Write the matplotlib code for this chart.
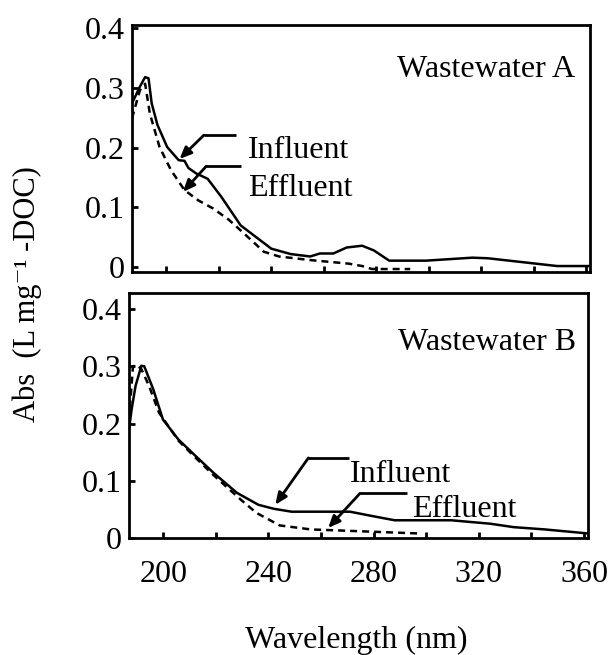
import matplotlib
matplotlib.use("Agg")
import matplotlib.pyplot as plt

plt.rcParams["font.family"] = ["Liberation Serif", "DejaVu Serif"]

# Wastewater A, influent (solid) and effluent (dashed)
wl_a_in = [187, 190, 192, 193.3, 194.5, 196.7, 200.4, 204.8, 207, 208.5, 211.4,
           215.8, 221, 228.4, 240.1, 247.5, 254.9, 258.6, 263.7, 268.8, 274.7,
           279.2, 285, 299, 316.7, 322.6, 349, 361]
abs_a_in = [0.274, 0.302, 0.318, 0.316, 0.274, 0.238, 0.201, 0.179, 0.178, 0.166,
            0.157, 0.148, 0.118, 0.070, 0.031, 0.022, 0.018, 0.023, 0.023, 0.033,
            0.036, 0.028, 0.011, 0.011, 0.016, 0.015, 0.002, 0.002]
wl_a_eff = [187, 190, 192, 193.8, 197.5, 201.9, 207, 212.2, 218, 224, 229.8,
            237.2, 243, 254.9, 269.6, 274.7, 278.4, 293]
abs_a_eff = [0.249, 0.296, 0.307, 0.257, 0.201, 0.162, 0.129, 0.112, 0.098, 0.079,
             0.056, 0.026, 0.018, 0.012, 0.006, 0.002, -0.003, -0.003]

# Wastewater B
wl_b_in = [187, 188, 189.5, 191.7, 192.8, 196.2, 199.9, 205.8, 211.7, 219.1, 228,
           236.2, 242.1, 248.8, 271, 279.9, 288, 309.5, 324.3, 333.2, 345.1, 361.4]
abs_b_in = [0.190, 0.225, 0.266, 0.301, 0.300, 0.260, 0.207, 0.172, 0.146, 0.114,
            0.079, 0.058, 0.051, 0.046, 0.046, 0.038, 0.031, 0.031, 0.025, 0.019,
            0.015, 0.008]
wl_b_eff = [187, 188.5, 190, 191.7, 194.6, 198.4, 205.8, 211.7, 219.1, 229.5,
            235.4, 244.3, 256.1, 268, 296.9]
abs_b_eff = [0.207, 0.300, 0.302, 0.295, 0.266, 0.219, 0.170, 0.143, 0.110, 0.067,
             0.044, 0.022, 0.015, 0.013, 0.008]

y_ticks = [0, 0.1, 0.2, 0.3, 0.4]
y_labels = ["0", "0.1", "0.2", "0.3", "0.4"]
x_ticks = [200, 240, 280, 320, 360]
FS = 23


def style_axes(ax, ylim):
    ax.set_xlim(187, 361.5)
    ax.set_ylim(*ylim)
    for s in ax.spines.values():
        s.set_linewidth(2.0)
    ax.set_yticks(y_ticks)
    ax.set_yticklabels(y_labels, fontsize=FS)
    ax.set_xticks(x_ticks)
    ax.set_xticks(range(200, 361, 20), minor=True)
    ax.tick_params(axis="both", which="both", direction="in", width=2, length=4)
    ax.tick_params(axis="y", pad=5)
    ax.tick_params(axis="x", pad=16, labelsize=FS)


def pointer(ax, x0, x1, y, tip):
    ax.plot([x0, x1], [y, y], color="black", lw=2.0, solid_capstyle="butt")
    ax.annotate("", xy=tip, xytext=(x0, y),
                arrowprops=dict(arrowstyle="-|>,head_length=0.7,head_width=0.3",
                                color="black", lw=2.0, shrinkA=0, shrinkB=0))


fig = plt.figure(figsize=(6.1, 6.55), dpi=100)
ax1 = fig.add_axes([0.2164, 0.5847, 0.7508, 0.377])
ax2 = fig.add_axes([0.2115, 0.1786, 0.7525, 0.374])

dash = (0, (2.8, 2.0))

ax1.plot(wl_a_in, abs_a_in, "-", color="black", lw=1.8)
ax1.plot(wl_a_eff, abs_a_eff, color="black", lw=1.8, linestyle=dash)
style_axes(ax1, (-0.008, 0.405))
ax1.set_xticklabels([])
ax1.text(355.8, 0.330, "Wastewater A", ha="right", va="center", fontsize=FS)
ax1.text(231.3, 0.196, "Influent", ha="left", va="center", fontsize=FS)
ax1.text(231.3, 0.132, "Effluent", ha="left", va="center", fontsize=FS)
pointer(ax1, 214.4, 226.8, 0.221, (205.1, 0.181))
pointer(ax1, 215.3, 228.5, 0.169, (206.4, 0.126))

ax2.plot(wl_b_in, abs_b_in, "-", color="black", lw=1.8)
ax2.plot(wl_b_eff, abs_b_eff, color="black", lw=1.8, linestyle=dash)
style_axes(ax2, (0, 0.428))
ax2.set_xticklabels([str(t) for t in x_ticks])
ax2.text(357, 0.341, "Wastewater B", ha="right", va="center", fontsize=FS)
ax2.text(270.9, 0.111, "Influent", ha="left", va="center", fontsize=FS)
ax2.text(294.6, 0.050, "Effluent", ha="left", va="center", fontsize=FS)
pointer(ax2, 255.2, 270.8, 0.140, (242.6, 0.058))
pointer(ax2, 274.8, 292.7, 0.078, (262.7, 0.0175))

fig.text(27 / 610, 1 - 294 / 655, "Abs  (L mg\u207b\u00b9 -DOC)", rotation=90,
         ha="center", va="center", fontsize=22)
fig.text(356 / 610, 1 - 640 / 655, "Wavelength (nm)", ha="center", va="center",
         fontsize=FS)

fig.savefig("out.png", dpi=100)
